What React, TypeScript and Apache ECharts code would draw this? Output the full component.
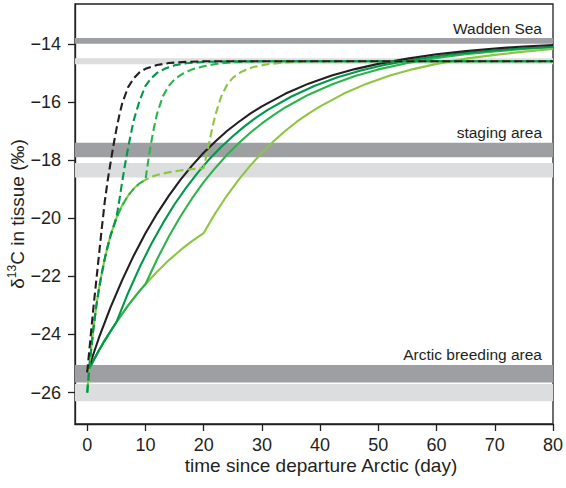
import React, { useEffect, useRef } from "react";
import * as echarts from "echarts";

const INK = "#231f20";
const BLACK = "#231f20";
const GREEN_DARK = "#00984a";
const GREEN_MID = "#2db34c";
const GREEN_LIGHT = "#8dc640";
const BAND_DARK = "#9d9fa2";
const BAND_LIGHT = "#dcddde";
const FONT = '"Liberation Sans", Arial, Helvetica, sans-serif';

// tick values
const xTicks = [0, 10, 20, 30, 40, 50, 60, 70, 80];
const yTicks = [-26, -24, -22, -20, -18, -16, -14];

// habitat bands (δ13C ranges)
const bandNames = ["Wadden Sea", "staging area", "Arctic breeding area"];
const darkBands = [
  [-14.0, -13.8],
  [-17.9, -17.4],
  [-25.65, -25.05],
];
const lightBands = [
  [-14.7, -14.5],
  [-18.6, -18.1],
  [-26.3, -25.7],
];

// solid lines (slow turnover)
const solidDirect = [
  [0, -25.3], [2, -24.12], [4, -23.07], [6, -22.13], [8, -21.28], [10, -20.52],
  [12, -19.84], [14, -19.23], [16, -18.68], [18, -18.19], [20, -17.75], [22, -17.36],
  [24, -17.0], [26, -16.69], [28, -16.4], [30, -16.15], [34, -15.72], [38, -15.37],
  [42, -15.09], [46, -14.87], [50, -14.69], [55, -14.51], [60, -14.36], [65, -14.25],
  [70, -14.16], [75, -14.09], [80, -14.04],
];
const solidStaging = [
  [0, -25.3], [1, -24.92], [2, -24.55], [3, -24.21], [4, -23.89], [5, -23.58],
  [6, -23.29], [7, -23.01], [8, -22.75], [9, -22.5], [10, -22.27], [12, -21.84],
  [14, -21.45], [16, -21.1], [18, -20.79], [20, -20.51],
];
const solidLeave5 = [
  [7, -22.58], [9, -21.69], [11, -20.89], [13, -20.17], [15, -19.52], [17, -18.95],
  [19, -18.43], [21, -17.96], [23, -17.55], [25, -17.18], [27, -16.84], [29, -16.54],
  [31, -16.27], [35, -15.82], [39, -15.45], [43, -15.15], [47, -14.92], [51, -14.73],
  [55, -14.58], [60, -14.43], [65, -14.31], [70, -14.22], [75, -14.15], [80, -14.1],
];
const solidLeave10 = [
  [12, -21.41], [14, -20.64], [16, -19.94], [18, -19.32], [20, -18.76], [22, -18.27],
  [24, -17.82], [26, -17.42], [28, -17.06], [30, -16.74], [32, -16.45], [34, -16.19],
  [38, -15.75], [42, -15.4], [46, -15.11], [50, -14.88], [55, -14.66], [60, -14.49],
  [65, -14.36], [70, -14.26], [75, -14.18], [80, -14.12],
];
const solidLeave20 = [
  [22, -19.83], [24, -19.22], [26, -18.68], [28, -18.19], [30, -17.75], [32, -17.35],
  [34, -17.0], [36, -16.68], [38, -16.4], [40, -16.15], [44, -15.72], [48, -15.37],
  [52, -15.09], [56, -14.87], [60, -14.69], [65, -14.51], [70, -14.38], [75, -14.27],
  [80, -14.18],
];

// dashed lines (fast turnover)
const dashedDirect = [
  [0, -25.3], [0.5, -24.25], [1, -23.2], [1.5, -22.25], [2, -21.3], [2.5, -20.35],
  [3, -19.45], [3.5, -18.72], [4, -18.1], [4.5, -17.5], [5, -16.95], [5.5, -16.47],
  [6, -16.05], [7, -15.5], [8, -15.18], [9, -14.98], [10, -14.86], [12, -14.73],
  [14, -14.66], [17, -14.62], [20, -14.6], [80, -14.6],
];
const dashedStaging = [
  [0, -26.0], [0.5, -24.85], [1, -23.9], [1.5, -23.1], [2, -22.45], [2.5, -21.9],
  [3, -21.4], [3.5, -20.98], [4, -20.6], [5, -20.0], [6, -19.56], [7, -19.23],
  [8, -18.98], [9, -18.8], [10, -18.68], [11, -18.58], [12, -18.51], [13.5, -18.44],
  [15, -18.39], [17, -18.33], [20, -18.28],
];
const dashedLeave5 = [
  [5.5, -19.4], [6, -18.75], [6.5, -18.15], [7, -17.6], [7.5, -17.1], [8, -16.62],
  [9, -15.95], [10, -15.45], [11, -15.18], [12, -15.0], [13.5, -14.84], [15, -14.74],
  [17, -14.67], [20, -14.62], [25, -14.6], [80, -14.6],
];
const dashedLeave10 = [
  [10.5, -18.0], [11, -17.38], [11.5, -16.85], [12, -16.4], [13, -15.8], [14, -15.45],
  [15, -15.22], [16.5, -15.02], [18, -14.88], [20, -14.77], [22.5, -14.68], [25, -14.63],
  [30, -14.6], [80, -14.6],
];
const dashedLeave20 = [
  [20.5, -17.8], [21, -17.35], [21.5, -16.88], [22, -16.45], [23, -15.82], [24, -15.42],
  [25, -15.17], [26.5, -14.96], [28.5, -14.8], [31, -14.7], [34, -14.64], [38, -14.6],
  [80, -14.6],
];

const upTo = (arr: number[][], x: number) => arr.filter((p) => p[0] <= x);

function line(name: string, data: number[][], color: string, dashed: boolean, dashOffset = 0) {
  return {
    type: "line",
    name,
    data,
    symbol: "none",
    showSymbol: false,
    smooth: false,
    silent: true,
    z: 3,
    lineStyle: {
      color,
      width: 2.1,
      type: dashed ? [8, 4] : "solid",
      dashOffset,
      cap: "butt",
    },
  };
}

function buildOption() {
  const areaData: any[] = [];
  lightBands.forEach((b) => {
    areaData.push([{ yAxis: b[0], itemStyle: { color: BAND_LIGHT } }, { yAxis: b[1] }]);
  });
  darkBands.forEach((b, i) => {
    areaData.push([
      {
        yAxis: b[0],
        name: bandNames[i],
        itemStyle: { color: BAND_DARK },
        label: {
          show: true,
          position: ["100%", 0],
          align: "right",
          verticalAlign: "bottom",
          offset: [-11, -2],
          formatter: "{b}",
          color: INK,
          fontSize: 15.5,
          fontFamily: FONT,
        },
      },
      { yAxis: b[1] },
    ]);
  });

  const fmt = (v: number) => String(v).replace("-", "\u2212");

  return {
    animation: false,
    textStyle: { fontFamily: FONT },
    grid: {
      left: 75,
      top: 4,
      width: 478,
      height: 420,
      show: true,
      borderColor: INK,
      borderWidth: 1.3,
      backgroundColor: "transparent",
      containLabel: false,
      outerBoundsMode: "none",
    },
    xAxis: {
      type: "value",
      min: -2.1,
      max: 80,
      name: "time since departure Arctic (day)",
      nameLocation: "middle",
      nameGap: 32,
      nameMoveOverlap: false,
      nameTextStyle: { fontSize: 19, color: INK, fontFamily: FONT, padding: [0, 0, 0, 14] },
      axisLine: { show: true, onZero: false, lineStyle: { color: INK, width: 1.3 } },
      axisTick: { show: true, length: 7, customValues: xTicks, lineStyle: { color: INK, width: 1.3 } },
      axisLabel: { customValues: xTicks, fontSize: 18, color: INK, margin: 12, fontFamily: FONT },
      splitLine: { show: false },
    },
    yAxis: {
      type: "value",
      min: -27.08,
      max: -12.63,
      name: "{a|\u03b4}{s|13}{a|C in tissue (\u2030)}",
      nameLocation: "middle",
      nameGap: 47,
      nameMoveOverlap: false,
      nameTextStyle: {
        color: INK,
        fontFamily: FONT,
        rich: {
          a: { fontSize: 19, lineHeight: 22, color: INK, fontFamily: FONT },
          s: { fontSize: 12, lineHeight: 12, verticalAlign: "top", color: INK, fontFamily: FONT },
        },
      },
      axisLine: { show: true, onZero: false, lineStyle: { color: INK, width: 1.3 } },
      axisTick: { show: true, length: 7, customValues: yTicks, lineStyle: { color: INK, width: 1.3 } },
      axisLabel: { customValues: yTicks, fontSize: 18, color: INK, margin: 14, fontFamily: FONT, formatter: fmt },
      splitLine: { show: false },
    },
    series: [
      {
        type: "line",
        name: "bands",
        data: [],
        z: 1,
        silent: true,
        markArea: { silent: true, z: 1, data: areaData },
      },
      line("solid 20", upTo(solidStaging, 20).concat(solidLeave20), GREEN_LIGHT, false),
      line("solid 10", upTo(solidStaging, 10).concat(solidLeave10), GREEN_MID, false),
      line("solid 5", upTo(solidStaging, 5).concat(solidLeave5), GREEN_DARK, false),
      line("solid direct", solidDirect, BLACK, false),
      line("dashed 20", upTo(dashedStaging, 20).concat(dashedLeave20), GREEN_LIGHT, true, 6),
      line("dashed 10", upTo(dashedStaging, 10).concat(dashedLeave10), GREEN_MID, true, 0),
      line("dashed 5", upTo(dashedStaging, 5).concat(dashedLeave5), GREEN_DARK, true, 0),
      line("dashed direct", dashedDirect, BLACK, true, 0),
    ],
  };
}

export default function App() {
  const ref = useRef<HTMLDivElement>(null);
  useEffect(() => {
    const chart = echarts.init(ref.current!, null, { renderer: "svg" });
    chart.setOption(buildOption() as any);
    return () => chart.dispose();
  }, []);
  return (
    <div
      ref={ref}
      style={{ position: "absolute", left: 0, top: 0, width: 566, height: 488, background: "#fff" }}
    />
  );
}
